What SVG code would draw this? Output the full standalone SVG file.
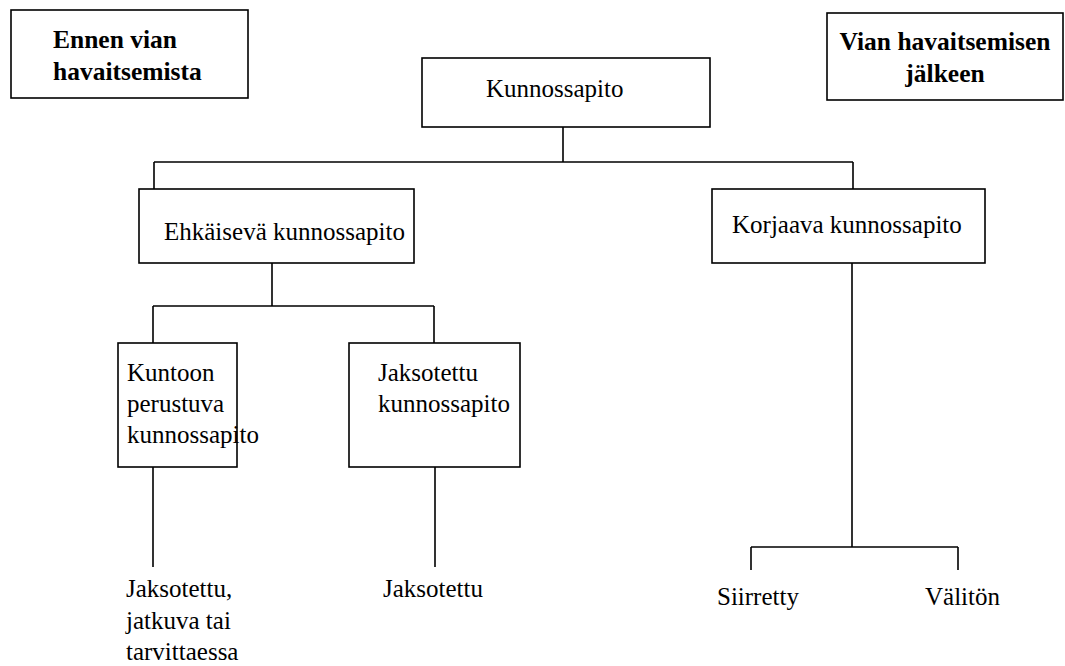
<svg xmlns="http://www.w3.org/2000/svg" width="1065" height="666" viewBox="0 0 1065 666">
<style>
.box{fill:#fff;stroke:#000;stroke-width:1.6}
.t{font-family:"Liberation Serif","Times New Roman",serif;font-size:25px;fill:#000}
.b{font-family:"Liberation Serif","Times New Roman",serif;font-size:25.5px;font-weight:bold;fill:#000}
.c{fill:none;stroke:#000;stroke-width:1.6}
</style>
<rect width="1065" height="666" fill="#fff"/>
<g id="connectors">
<path class="c" d="M563,127V162M154,162H853M154,162V189M853,162V189"/>
<path class="c" d="M272,263V306M153,306H434M153,306V343M434,306V343"/>
<path class="c" d="M153,467V567M435,467V567"/>
<path class="c" d="M852,263V547M751,547H958M751,547V570M958,547V570"/>
</g>
<g id="before">
<rect class="box" x="11" y="10" width="237" height="88"/>
<text class="b" x="53" y="48">Ennen vian</text>
<text class="b" x="53" y="80">havaitsemista</text>
</g>
<g id="after">
<rect class="box" x="827" y="13" width="236" height="87"/>
<text class="b" x="945" y="50" text-anchor="middle">Vian havaitsemisen</text>
<text class="b" x="945" y="82" text-anchor="middle">jälkeen</text>
</g>
<g id="kunnossapito">
<rect class="box" x="422" y="58" width="288" height="69"/>
<text class="t" x="486" y="97">Kunnossapito</text>
</g>
<g id="ehkaiseva">
<rect class="box" x="139" y="189" width="275" height="74"/>
<text class="t" x="164" y="240">Ehkäisevä kunnossapito</text>
</g>
<g id="korjaava">
<rect class="box" x="712" y="189" width="273" height="74"/>
<text class="t" x="732" y="233">Korjaava kunnossapito</text>
</g>
<g id="kuntoon">
<rect class="box" x="118" y="343" width="119" height="124"/>
<text class="t" x="127" y="381">Kuntoon</text>
<text class="t" x="127" y="412">perustuva</text>
<text class="t" x="127" y="443">kunnossapito</text>
</g>
<g id="jaksotettu-km">
<rect class="box" x="349" y="343" width="171" height="124"/>
<text class="t" x="378" y="381">Jaksotettu</text>
<text class="t" x="378" y="412">kunnossapito</text>
</g>
<g id="leaf-1">
<text class="t" x="126" y="597">Jaksotettu,</text>
<text class="t" x="126" y="629">jatkuva tai</text>
<text class="t" x="126" y="660">tarvittaessa</text>
</g>
<g id="leaf-2">
<text class="t" x="383" y="597">Jaksotettu</text>
</g>
<g id="leaf-3">
<text class="t" x="717" y="605">Siirretty</text>
</g>
<g id="leaf-4">
<text class="t" x="925" y="605">Välitön</text>
</g>
</svg>
